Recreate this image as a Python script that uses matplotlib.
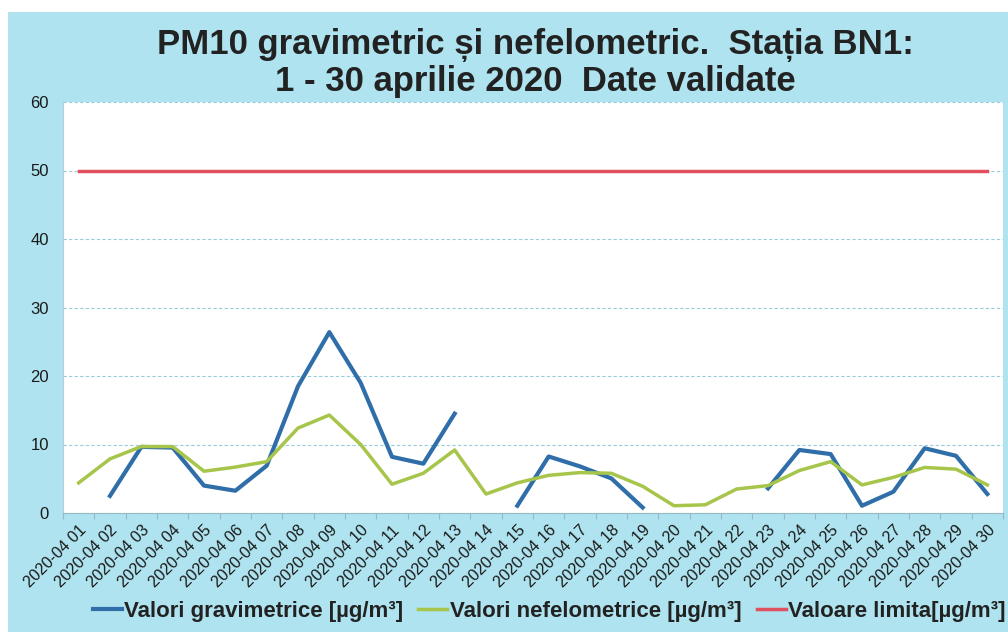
import numpy as np
import matplotlib
matplotlib.use("Agg")
import matplotlib.pyplot as plt
from matplotlib.patches import Rectangle

plt.rcParams['font.family'] = ['Liberation Sans', 'DejaVu Sans']

days = [f"2020-04 {d:02d}" for d in range(1, 31)]
nan = np.nan
gravimetric = [nan, 2.5, 9.65, 9.55, 4.0, 3.25, 6.9, 18.5, 26.4, 19.0,
               8.2, 7.2, 14.5, nan, 1.06, 8.25, 6.8, 5.05, 0.8, nan,
               nan, nan, 3.6, 9.2, 8.6, 1.06, 3.1, 9.45, 8.35, 2.77]
nefelometric = [4.4, 7.9, 9.7, 9.7, 6.1, 6.7, 7.5, 12.4, 14.3, 10.0,
                4.2, 5.8, 9.2, 2.77, 4.4, 5.5, 5.9, 5.8, 3.9, 1.06,
                1.2, 3.5, 4.0, 6.2, 7.5, 4.1, 5.2, 6.65, 6.4, 4.1]
limit = [50] * 30
labels = ["Valori gravimetrice [µg/m³]", "Valori nefelometrice [µg/m³]",
          "Valoare limita[µg/m³]"]
title = "PM10 gravimetric și nefelometric.  Stația BN1:\n1 - 30 aprilie 2020  Date validate"

W, H = 1008, 632
fig = plt.figure(figsize=(W / 100, H / 100), dpi=100)
fig.patch.set_facecolor('white')
bg = '#aee3ef'
fig.add_artist(Rectangle((8 / W, 0), 1, (H - 12) / H, transform=fig.transFigure,
                         facecolor=bg, edgecolor='none', zorder=-5))

ax = fig.add_axes([63 / W, 1 - 513 / H, (1003 - 63) / W, (513 - 102) / H])
ax.set_facecolor('white')

x = np.arange(1, 31)
ax.plot(x, gravimetric, color='#2f6ea8', lw=3.0, label=labels[0], zorder=3)
ax.plot(x, nefelometric, color='#a6c54a', lw=2.5, label=labels[1], zorder=3)
ax.plot(x, limit, color='#e0505e', lw=2.5, label=labels[2], zorder=3)

ax.set_xlim(0.5, 30.5)
ax.set_ylim(0, 60)
ax.set_yticks(range(0, 61, 10))
ax.grid(axis='y', color='#9ccbdb', lw=0.8, linestyle=(0, (3, 2)))
ax.set_axisbelow(True)

ax.set_xticks(x)
ax.set_xticklabels(days, rotation=45, ha='right', va='top',
                   rotation_mode='anchor', fontsize=11.5, color='#1a1a1a')
ax.tick_params(axis='x', length=0, pad=7)
ax.set_xticks(np.arange(0.5, 31, 1), minor=True)
ax.tick_params(axis='x', which='minor', length=4, color='#9ab8c4', width=0.8)
ax.tick_params(axis='y', length=0, labelsize=12, pad=10, labelcolor='#1a1a1a')

for s in ['top', 'right']:
    ax.spines[s].set_visible(False)
ax.spines['left'].set_color('#b5cfd8')
ax.spines['bottom'].set_color('#9ab8c4')

fig.text(535 / W, 1 - 63 / H, title, ha='center', va='center',
         fontsize=25, fontweight='bold', color='#222222', linespacing=1.12)

fig.legend(loc='center', bbox_to_anchor=(549 / W, 1 - 611 / H), ncol=3,
           frameon=False, prop={'size': 16, 'weight': 'bold'},
           handlelength=1.3, handletextpad=0.1, columnspacing=0.7,
           labelcolor='#222222')

fig.savefig('out.png', dpi=100)
